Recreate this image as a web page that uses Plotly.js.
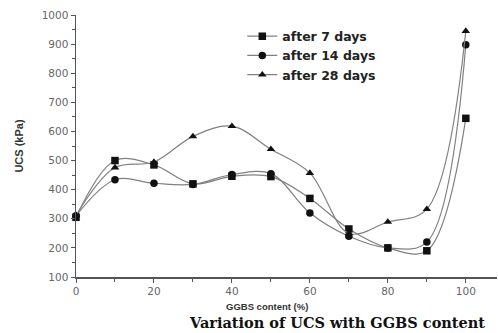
<!DOCTYPE html>
<html>
<head>
<meta charset="utf-8">
<script src="https://cdn.plot.ly/plotly-3.0.1.min.js"></script>
<style>html,body{margin:0;padding:0;background:#fff;}#chart{width:498px;height:333px;}</style>
</head>
<body>
<div id="chart"></div>
<script>
const ggbs = [0, 10, 20, 30, 40, 50, 60, 70, 80, 90, 100];
const ucs7 = [305, 500, 485, 420, 446, 445, 370, 265, 200, 190, 645];
const ucs14 = [310, 434, 422, 418, 452, 455, 320, 240, 200, 220, 898];
const ucs28 = [312, 476, 495, 583, 618, 539, 457, 250, 289, 333, 945];
const seriesNames = ['after 7 days', 'after 14 days', 'after 28 days'];
const xTicks = [0, 20, 40, 60, 80, 100];
const yTicks = [100, 200, 300, 400, 500, 600, 700, 800, 900, 1000];

const symbols = ['square', 'circle', 'triangle-up'];
const sets = [ucs7, ucs14, ucs28];
const traces = sets.map((ys, i) => ({
  x: ggbs, y: ys, name: seriesNames[i], type: 'scatter', mode: 'lines+markers',
  line: {color: '#808080', width: 1.2, shape: 'spline', smoothing: 1},
  marker: {symbol: symbols[i], color: '#111', size: 7.5},
  cliponaxis: false
}));

const layout = {
  width: 498, height: 333,
  margin: {l: 76, r: 1, t: 15, b: 56},
  paper_bgcolor: '#fff', plot_bgcolor: '#fff',
  font: {family: 'DejaVu Sans, sans-serif', color: '#555'},
  xaxis: {
    range: [0, 108], tickvals: xTicks, ticks: 'outside', ticklen: 4, tickcolor: '#555',
    minor: {dtick: 10, tick0: 0, ticks: 'outside', ticklen: 3, tickcolor: '#555'},
    showgrid: false, zeroline: false, showline: true, linecolor: '#555', linewidth: 1.5,
    tickfont: {size: 10.5, color: '#666'}
  },
  yaxis: {
    range: [100, 1000], tickvals: yTicks, ticks: 'outside', ticklen: 4, tickcolor: '#555',
    minor: {dtick: 50, tick0: 0, ticks: 'outside', ticklen: 3, tickcolor: '#555'},
    showgrid: false, zeroline: false, showline: true, linecolor: '#555', linewidth: 1.5,
    tickfont: {size: 10.5, color: '#666'},
    title: {text: 'UCS (kPa)', font: {family: 'Liberation Sans, Arial, sans-serif', size: 11, color: '#333', weight: 'bold'}, standoff: 16}
  },
  legend: {
    x: 0.395, y: 0.975, xanchor: 'left', yanchor: 'top', bgcolor: 'rgba(0,0,0,0)',
    font: {family: 'DejaVu Sans, sans-serif', size: 12.5, color: '#222', weight: 'bold'},
    tracegroupgap: 0
  },
  showlegend: true,
  annotations: [{
    text: 'GGBS content (%)', xref: 'paper', yref: 'paper',
    x: (267 - 76) / 421, y: -(306 - 276.7) / 261.7, xanchor: 'center', yanchor: 'middle', showarrow: false,
    font: {family: 'Liberation Sans, Arial, sans-serif', size: 9.5, color: '#333', weight: 'bold'}
  }, {
    text: 'Variation of UCS with GGBS content', xref: 'paper', yref: 'paper',
    x: (337 - 76) / 421, y: -(322 - 276.7) / 261.7, xanchor: 'center', yanchor: 'middle', showarrow: false,
    font: {family: 'DejaVu Serif, serif', size: 14.5, color: '#111', weight: 'bold'}
  }]
};

Plotly.newPlot('chart', traces, layout, {displayModeBar: false, staticPlot: true});
</script>
</body>
</html>
